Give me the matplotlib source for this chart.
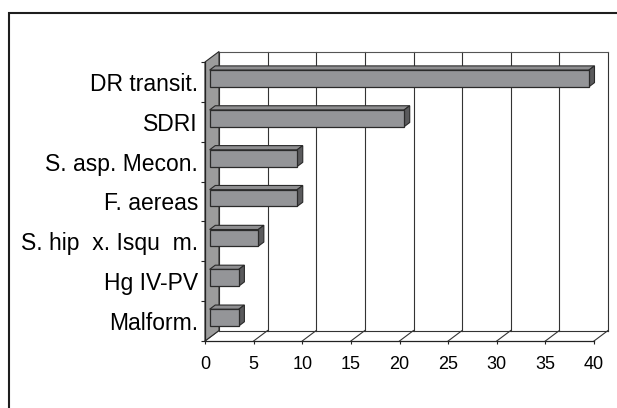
import matplotlib
matplotlib.use("Agg")
import matplotlib.pyplot as plt
from matplotlib.patches import Polygon, Rectangle

# Causes, listed bottom to top as they appear on the chart
causes = ["Malform.", "Hg IV-PV", "S. hip  x. Isqu  m.", "F. aereas",
          "S. asp. Mecon.", "SDRI", "DR transit."]
counts = [3, 3, 5, 9, 9, 20, 39]
x_ticks = [0, 5, 10, 15, 20, 25, 30, 35, 40]

plt.rcParams["font.family"] = ["Liberation Sans", "DejaVu Sans"]

W, H = 617, 408
fig = plt.figure(figsize=(W / 100, H / 100), dpi=100)
ax = fig.add_axes([205 / W, 67 / H, 389 / W, 279 / H])
ax.set_xlim(0, 40)
ax.set_ylim(-0.5, len(causes) - 0.5)
ax.patch.set_visible(False)
for side in ["top", "right"]:
    ax.spines[side].set_visible(False)
for side in ["left", "bottom"]:
    ax.spines[side].set_linewidth(0.9)
    ax.spines[side].set_color("#222222")
    ax.spines[side].set_zorder(6)

# depth of the box, converted to data units (14 px right, 10.5 px up)
KX = 14 / (389 / 40)
KY = 10.5 / (279 / len(causes))


def proj(x, y, z):
    return (x + z * KX, y + z * KY)


y0, y1 = -0.5, len(causes) - 0.5
edge = "#2a2a2a"

# side wall
wall = Polygon([proj(0, y0, 0), proj(0, y1, 0), proj(0, y1, 1), proj(0, y0, 1)],
               closed=True, facecolor="#9c9c9c", edgecolor=edge, lw=0.8,
               clip_on=False, zorder=2)
ax.add_patch(wall)

# back wall grid and floor lines
for xv in x_ticks:
    ax.plot(*zip(proj(xv, y0, 1), proj(xv, y1, 1)), color="#333333", lw=0.8,
            clip_on=False, zorder=1)
    ax.plot(*zip(proj(xv, y0, 0), proj(xv, y0, 1)), color="#333333", lw=0.8,
            clip_on=False, zorder=1)
ax.plot(*zip(proj(0, y1, 1), proj(40, y1, 1)), color="#555555", lw=0.8,
        clip_on=False, zorder=1)
ax.plot(*zip(proj(0, y0, 1), proj(40, y0, 1)), color="#333333", lw=0.8,
        clip_on=False, zorder=1)

# 3D bars
f0, f1 = 0.33, 0.73
hh = 0.21
for i, v in enumerate(counts):
    front = [proj(0, i - hh, f0), proj(v, i - hh, f0), proj(v, i + hh, f0), proj(0, i + hh, f0)]
    top = [proj(0, i + hh, f0), proj(v, i + hh, f0), proj(v, i + hh, f1), proj(0, i + hh, f1)]
    end = [proj(v, i - hh, f0), proj(v, i - hh, f1), proj(v, i + hh, f1), proj(v, i + hh, f0)]
    ax.add_patch(Polygon(top, closed=True, facecolor="#8e8e90", edgecolor=edge,
                         lw=0.8, clip_on=False, zorder=3))
    ax.add_patch(Polygon(end, closed=True, facecolor="#5a5a5c", edgecolor=edge,
                         lw=0.8, clip_on=False, zorder=3))
    ax.add_patch(Polygon(front, closed=True, facecolor="#949598", edgecolor=edge,
                         lw=0.9, clip_on=False, zorder=4))

# axes ticks and labels
ax.set_xticks(x_ticks)
ax.set_xticklabels([str(t) for t in x_ticks], fontsize=13)
ax.set_yticks([k - 0.5 for k in range(len(causes) + 1)])
ax.set_yticklabels([])
ax.set_yticks(range(len(causes)), minor=True)
ax.set_yticklabels(causes, minor=True, fontsize=16.5)
ax.tick_params(axis="x", which="major", length=2.5, width=0.8, pad=8.5, color="#222222")
ax.tick_params(axis="y", which="major", length=3, width=0.8, color="#222222")
ax.tick_params(axis="y", which="minor", length=0, pad=5)

# outer frame
fig.add_artist(Rectangle((9 / W, -0.1), 1.2, 1 - 13 / H + 0.1, transform=fig.transFigure,
                         fill=False, edgecolor="#1e1e1e", lw=1.5))

fig.savefig("out.png", dpi=100)
